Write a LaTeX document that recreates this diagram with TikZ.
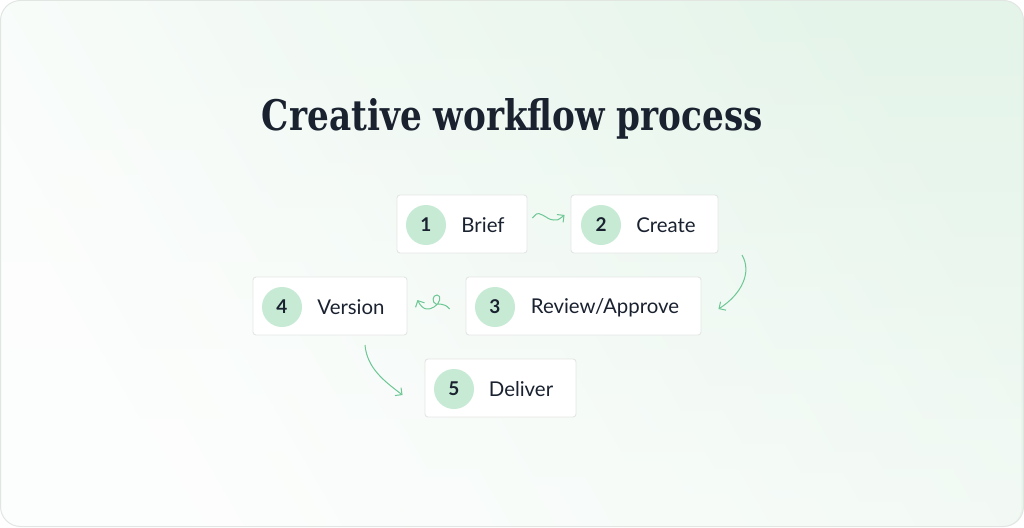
\documentclass[tikz,border=0pt]{standalone}
\usepackage{fontspec}
\setmainfont{Lato}
\newfontfamily\titlefont{DejaVu Serif}
\usetikzlibrary{arrows.meta,fadings}
\definecolor{bgG}{HTML}{E4F4E9}
\definecolor{bgW}{HTML}{FBFDFC}
\definecolor{frameC}{HTML}{E2E6E3}
\definecolor{boxB}{HTML}{E3E6E4}
\definecolor{circF}{HTML}{C6EAD4}
\definecolor{inkC}{HTML}{1A2230}
\definecolor{arrC}{HTML}{6CC794}
\tikzset{
  stepbox/.style={draw=boxB, line width=0.9pt, fill=white, rounded corners=3pt, inner sep=0pt},
  numc/.style={circle, fill=circF, minimum size=40pt, inner sep=0pt, text=inkC, font=\fontsize{19}{19}\selectfont\bfseries},
  lbl/.style={text=inkC, font=\fontsize{20.4}{20.4}\selectfont, anchor=center, inner sep=0pt},
  conn/.style={draw=arrC, line width=1pt, -{Straight Barb[length=5pt,width=10pt]}},
}
\begin{document}
\begin{tikzpicture}[x=1pt,y=-1pt]
\useasboundingbox (0,0) rectangle (1024,527);
\shade[rounded corners=20pt, left color=bgW, right color=bgG, shading angle=120] (0.5,0.5) rectangle (1023.5,526.5);
\fill[white, opacity=0.5, rounded corners=20pt, path fading=north] (0.5,0.5) rectangle (1023.5,526.5);
\draw[frameC, line width=1pt, rounded corners=20pt] (0.5,0.5) rectangle (1023.5,526.5);
\node[text=inkC, anchor=base, inner sep=0pt] (title) at (512.5,130.5) {\resizebox{501pt}{32pt}{\titlefont\bfseries Creative workflow process}};
% boxes
\node[stepbox, minimum width=130pt, minimum height=58pt] (b1) at (462,224) {};
\node[stepbox, minimum width=147pt, minimum height=58pt] (b2) at (644.5,224) {};
\node[stepbox, minimum width=235pt, minimum height=58pt] (b3) at (583.5,306) {};
\node[stepbox, minimum width=154pt, minimum height=58pt] (b4) at (330,306) {};
\node[stepbox, minimum width=151pt, minimum height=58pt] (b5) at (500.5,388) {};
% circles
\node[numc] (c1) at (426,225) {1};
\node[numc] (c2) at (601,225) {2};
\node[numc] (c3) at (495,307) {3};
\node[numc] (c4) at (282,307) {4};
\node[numc] (c5) at (454,389) {5};
% labels
\node[lbl] (t1) at (483,225) {Brief};
\node[lbl] (t2) at (666,225) {Create};
\node[lbl] (t3) at (605,308) {Review/Approve};
\node[lbl] (t4) at (351,307) {Version};
\node[lbl] (t5) at (521,389) {Deliver};
% connectors
\coordinate (a1s) at ([xshift=5pt,yshift=6pt]b1.east);
\coordinate (a1e) at ([xshift=-6pt,yshift=9pt]b2.west);
\draw[conn] (a1s) .. controls +(4,-4) and +(-6,-3) .. +(10,-3) .. controls +(6,3) and +(-6,-1) .. +(21,2) .. controls +(4,0.5) .. (a1e);
\coordinate (a2s) at (742,255);
\coordinate (a2e) at ([xshift=17pt,yshift=-3pt]b3.east);
\draw[conn] (a2s) .. controls (752,272) and (742,294) .. (a2e);
\coordinate (a3s) at ([xshift=-16pt,yshift=-3pt]b3.west);
\coordinate (a3e) at ([xshift=10pt,yshift=6pt]b4.east);
\draw[conn] (a3s) .. controls (444,302) and (438,305) .. (436,304) .. controls (432,303) and (432,295) .. (437,295) .. controls (442,295) and (440,304) .. (434,307) .. controls (429,310) and (423,311) .. (a3e);
\coordinate (a4s) at (365,345);
\coordinate (a4e) at ([xshift=-22pt,yshift=-7pt]b5.west);
\draw[conn] (a4s) .. controls (367,368) and (384,381) .. (a4e);
\end{tikzpicture}
\end{document}
